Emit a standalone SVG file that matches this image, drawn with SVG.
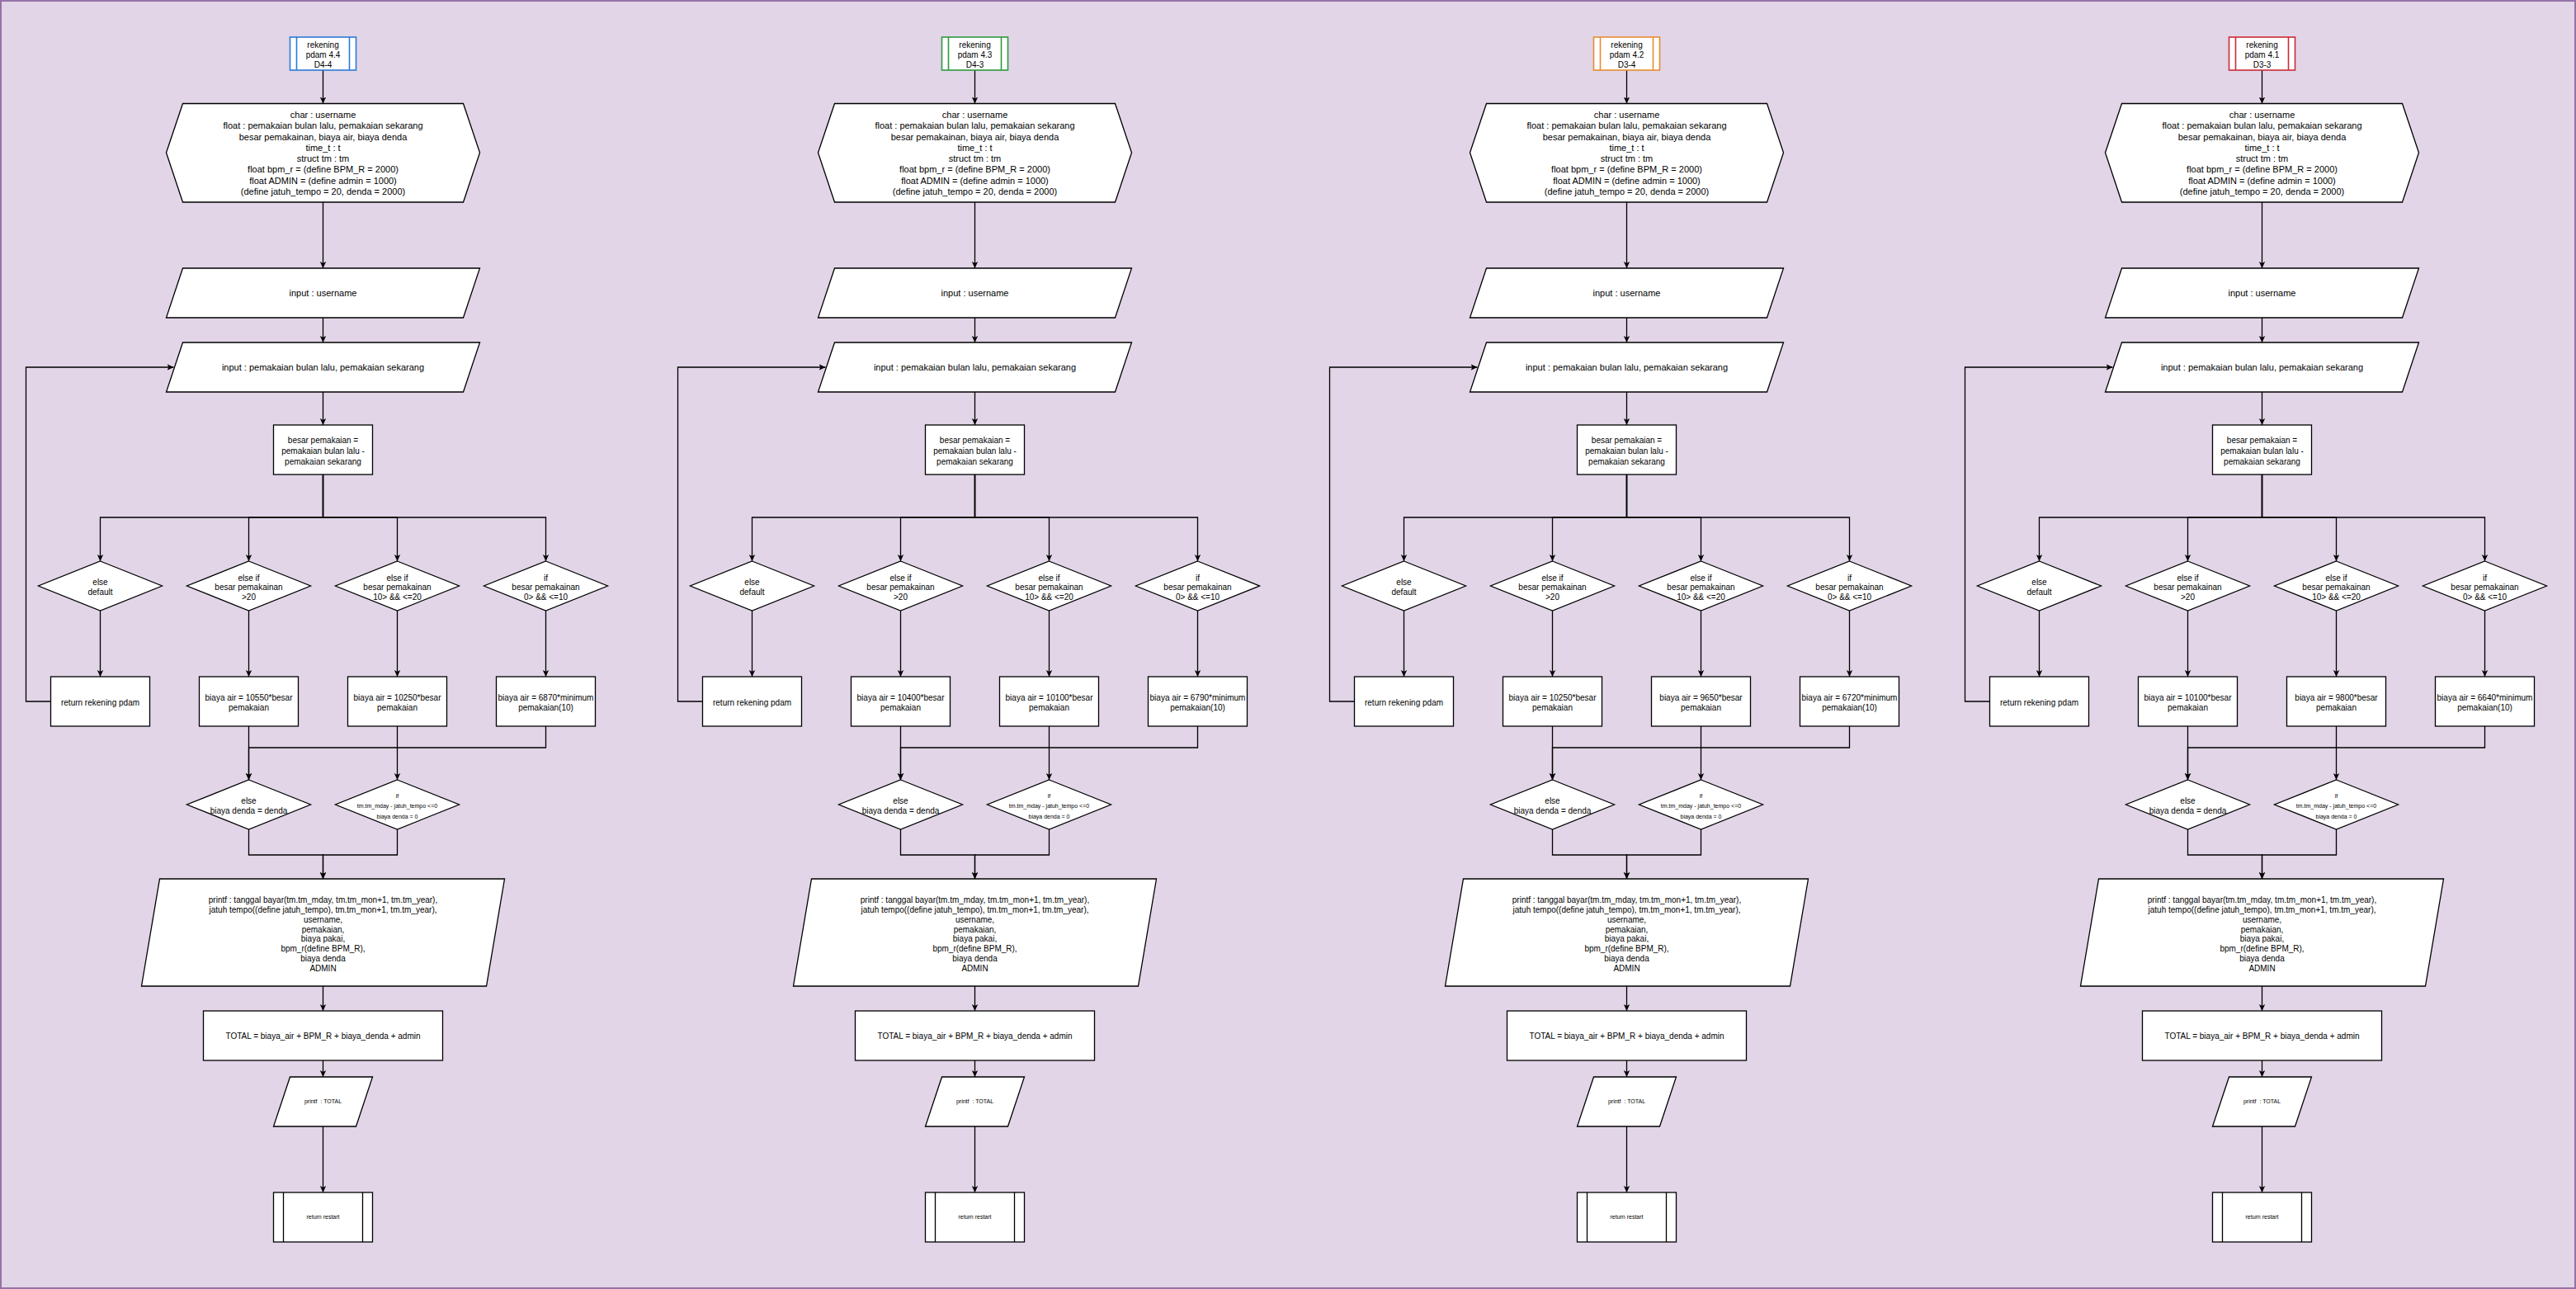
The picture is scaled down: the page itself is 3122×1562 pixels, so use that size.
<svg xmlns="http://www.w3.org/2000/svg" width="3122" height="1562" viewBox="0 0 3122 1562">
<defs>
<style>
.n{fill:#fff;stroke:#000;stroke-width:1.3}
.t{font-family:"Liberation Sans",Arial,Helvetica,sans-serif;font-size:10px;text-anchor:middle;fill:#000}
.f11{font-size:11px}
.f7{font-size:7px}
.e{fill:none;stroke:#000;stroke-width:1.3;marker-end:url(#arr)}
.blue{fill:#fff;stroke:#2b7bd6;stroke-width:1.6}
.green{fill:#fff;stroke:#2d9a3c;stroke-width:1.6}
.orange{fill:#fff;stroke:#e88c2e;stroke-width:1.6}
.red{fill:#fff;stroke:#cc2a36;stroke-width:1.6}
</style>
<marker id="arr" markerUnits="userSpaceOnUse" markerWidth="10" markerHeight="10" viewBox="0 0 10 10" refX="8" refY="5" orient="auto">
<path d="M0,1.3 L8,5 L0,8.7 L2,5 Z" fill="#000"/>
</marker>
</defs>
<rect x="1" y="1" width="3120" height="1560" fill="#e1d5e7" stroke="#9673a6" stroke-width="2"/>

<!-- ================= COLUMN 1 ================= -->
<g id="c1-edges" transform="translate(391.5 0)">
<path class="e" d="M0,85 V125.5"/>
<path class="e" d="M0,245 V325"/>
<path class="e" d="M0,385 V415"/>
<path class="e" d="M0,475 V515"/>
<path class="e" d="M0,575 V627 H-270 V680"/>
<path class="e" d="M0,575 V627 H-90 V680"/>
<path class="e" d="M0,575 V627 H90 V680"/>
<path class="e" d="M0,575 V627 H270 V680"/>
<path class="e" d="M-270,740 V820"/>
<path class="e" d="M-90,740 V820"/>
<path class="e" d="M90,740 V820"/>
<path class="e" d="M270,740 V820"/>
<path class="e" d="M-330,850 H-360 V445 H-181"/>
<path class="e" d="M-90,880 V945"/>
<path class="e" d="M90,880 V945"/>
<path class="e" d="M270,880 V906 H-90 V945"/>
<path class="e" d="M-90,1005 V1036 H0 V1065"/>
<path class="e" d="M90,1005 V1036 H0 V1065"/>
<path class="e" d="M0,1195 V1225"/>
<path class="e" d="M0,1285 V1305"/>
<path class="e" d="M0,1365 V1445"/>
</g>
<g id="c1-title" transform="translate(391.5 0)">
<rect class="blue" x="-40" y="45" width="80" height="40"/>
<line class="blue" x1="-32" y1="45" x2="-32" y2="85"/><line class="blue" x1="32" y1="45" x2="32" y2="85"/>
<text class="t"><tspan x="0" y="57.5">rekening</tspan><tspan x="0" y="69.8">pdam 4.4</tspan><tspan x="0" y="82">D4-4</tspan></text>
</g>
<g id="c1-decl" transform="translate(391.5 0)">
<polygon class="n" points="-190,185 -170,125.5 170,125.5 190,185 170,245 -170,245"/>
<text class="t f11"><tspan x="0" y="143.2">char : username</tspan><tspan x="0" y="156.4">float : pemakaian bulan lalu, pemakaian sekarang</tspan><tspan x="0" y="169.7">besar pemakainan, biaya air, biaya denda</tspan><tspan x="0" y="182.9">time_t : t</tspan><tspan x="0" y="196.2">struct tm : tm</tspan><tspan x="0" y="209.4">float bpm_r = (define BPM_R = 2000)</tspan><tspan x="0" y="222.7">float ADMIN = (define admin = 1000)</tspan><tspan x="0" y="235.9">(define jatuh_tempo = 20, denda = 2000)</tspan></text>
</g>
<g id="c1-in1" transform="translate(391.5 0)">
<polygon class="n" points="-170,325 190,325 170,385 -190,385"/>
<text class="t f11" x="0" y="359">input : username</text>
</g>
<g id="c1-in2" transform="translate(391.5 0)">
<polygon class="n" points="-170,415 190,415 170,475 -190,475"/>
<text class="t f11" x="0" y="449">input : pemakaian bulan lalu, pemakaian sekarang</text>
</g>
<g id="c1-besar" transform="translate(391.5 0)">
<rect class="n" x="-60" y="515" width="120" height="60"/>
<text class="t"><tspan x="0" y="536.5">besar pemakaian =</tspan><tspan x="0" y="549.5">pemakaian bulan lalu -</tspan><tspan x="0" y="562.5">pemakaian sekarang</tspan></text>
</g>
<g id="c1-d-else" transform="translate(121.5 0)">
<polygon class="n" points="0,680 75,710 0,740 -75,710"/>
<text class="t"><tspan x="0" y="709.2">else</tspan><tspan x="0" y="720.8">default</tspan></text>
</g>
<g id="c1-d-20" transform="translate(301.5 0)">
<polygon class="n" points="0,680 75,710 0,740 -75,710"/>
<text class="t"><tspan x="0" y="703.5">else if</tspan><tspan x="0" y="715.2">besar pemakainan</tspan><tspan x="0" y="726.8">&gt;20</tspan></text>
</g>
<g id="c1-d-10" transform="translate(481.5 0)">
<polygon class="n" points="0,680 75,710 0,740 -75,710"/>
<text class="t"><tspan x="0" y="703.5">else if</tspan><tspan x="0" y="715.2">besar pemakainan</tspan><tspan x="0" y="726.8">10&gt; &amp;&amp; &lt;=20</tspan></text>
</g>
<g id="c1-d-0" transform="translate(661.5 0)">
<polygon class="n" points="0,680 75,710 0,740 -75,710"/>
<text class="t"><tspan x="0" y="703.5">if</tspan><tspan x="0" y="715.2">besar pemakainan</tspan><tspan x="0" y="726.8">0&gt; &amp;&amp; &lt;=10</tspan></text>
</g>
<g id="c1-ret" transform="translate(121.5 0)">
<rect class="n" x="-60" y="820" width="120" height="60"/>
<text class="t" x="0" y="855.2">return rekening pdam</text>
</g>
<g id="c1-b1" transform="translate(301.5 0)">
<rect class="n" x="-60" y="820" width="120" height="60"/>
<text class="t"><tspan x="0" y="849.2">biaya air = 10550*besar</tspan><tspan x="0" y="861.2">pemakaian</tspan></text>
</g>
<g id="c1-b2" transform="translate(481.5 0)">
<rect class="n" x="-60" y="820" width="120" height="60"/>
<text class="t"><tspan x="0" y="849.2">biaya air = 10250*besar</tspan><tspan x="0" y="861.2">pemakaian</tspan></text>
</g>
<g id="c1-b3" transform="translate(661.5 0)">
<rect class="n" x="-60" y="820" width="120" height="60"/>
<text class="t"><tspan x="0" y="849.2">biaya air = 6870*minimum</tspan><tspan x="0" y="861.2">pemakaian(10)</tspan></text>
</g>
<g id="c1-d-denda" transform="translate(301.5 0)">
<polygon class="n" points="0,945 75,975 0,1005 -75,975"/>
<text class="t"><tspan x="0" y="974.2">else</tspan><tspan x="0" y="986.2">biaya denda = denda</tspan></text>
</g>
<g id="c1-d-tempo" transform="translate(481.5 0)">
<polygon class="n" points="0,945 75,975 0,1005 -75,975"/>
<text class="t f7"><tspan x="0" y="966.5">if</tspan><tspan x="0" y="979.2">tm.tm_mday - jatuh_tempo &lt;=0</tspan><tspan x="0" y="991.8">biaya denda = 0</tspan></text>
</g>
<g id="c1-printf" transform="translate(391.5 0)">
<polygon class="n" points="-198,1065 220,1065 198,1195 -220,1195"/>
<text class="t"><tspan x="0" y="1094.2">printf : tanggal bayar(tm.tm_mday, tm.tm_mon+1, tm.tm_year),</tspan><tspan x="0" y="1106">jatuh tempo((define jatuh_tempo), tm.tm_mon+1, tm.tm_year),</tspan><tspan x="0" y="1117.8">username,</tspan><tspan x="0" y="1129.6">pemakaian,</tspan><tspan x="0" y="1141.4">biaya pakai,</tspan><tspan x="0" y="1153.2">bpm_r(define BPM_R),</tspan><tspan x="0" y="1165">biaya denda</tspan><tspan x="0" y="1176.8">ADMIN</tspan></text>
</g>
<g id="c1-total" transform="translate(391.5 0)">
<rect class="n" x="-145" y="1225" width="290" height="60"/>
<text class="t" x="0" y="1259.2">TOTAL = biaya_air + BPM_R + biaya_denda + admin</text>
</g>
<g id="c1-ptotal" transform="translate(391.5 0)">
<polygon class="n" points="-40,1305 60,1305 40,1365 -60,1365"/>
<text class="t f7" x="0" y="1336.5">printf&#160; : TOTAL</text>
</g>
<g id="c1-restart" transform="translate(391.5 0)">
<rect class="n" x="-60" y="1445" width="120" height="60"/>
<line class="n" x1="-48" y1="1445" x2="-48" y2="1505"/><line class="n" x1="48" y1="1445" x2="48" y2="1505"/>
<text class="t f7" x="0" y="1476.5">return restart</text>
</g>

<!-- ================= COLUMN 2 ================= -->
<g id="c2-edges" transform="translate(1181.5 0)">
<path class="e" d="M0,85 V125.5"/>
<path class="e" d="M0,245 V325"/>
<path class="e" d="M0,385 V415"/>
<path class="e" d="M0,475 V515"/>
<path class="e" d="M0,575 V627 H-270 V680"/>
<path class="e" d="M0,575 V627 H-90 V680"/>
<path class="e" d="M0,575 V627 H90 V680"/>
<path class="e" d="M0,575 V627 H270 V680"/>
<path class="e" d="M-270,740 V820"/>
<path class="e" d="M-90,740 V820"/>
<path class="e" d="M90,740 V820"/>
<path class="e" d="M270,740 V820"/>
<path class="e" d="M-330,850 H-360 V445 H-181"/>
<path class="e" d="M-90,880 V945"/>
<path class="e" d="M90,880 V945"/>
<path class="e" d="M270,880 V906 H-90 V945"/>
<path class="e" d="M-90,1005 V1036 H0 V1065"/>
<path class="e" d="M90,1005 V1036 H0 V1065"/>
<path class="e" d="M0,1195 V1225"/>
<path class="e" d="M0,1285 V1305"/>
<path class="e" d="M0,1365 V1445"/>
</g>
<g id="c2-title" transform="translate(1181.5 0)">
<rect class="green" x="-40" y="45" width="80" height="40"/>
<line class="green" x1="-32" y1="45" x2="-32" y2="85"/><line class="green" x1="32" y1="45" x2="32" y2="85"/>
<text class="t"><tspan x="0" y="57.5">rekening</tspan><tspan x="0" y="69.8">pdam 4.3</tspan><tspan x="0" y="82">D4-3</tspan></text>
</g>
<g id="c2-decl" transform="translate(1181.5 0)">
<polygon class="n" points="-190,185 -170,125.5 170,125.5 190,185 170,245 -170,245"/>
<text class="t f11"><tspan x="0" y="143.2">char : username</tspan><tspan x="0" y="156.4">float : pemakaian bulan lalu, pemakaian sekarang</tspan><tspan x="0" y="169.7">besar pemakainan, biaya air, biaya denda</tspan><tspan x="0" y="182.9">time_t : t</tspan><tspan x="0" y="196.2">struct tm : tm</tspan><tspan x="0" y="209.4">float bpm_r = (define BPM_R = 2000)</tspan><tspan x="0" y="222.7">float ADMIN = (define admin = 1000)</tspan><tspan x="0" y="235.9">(define jatuh_tempo = 20, denda = 2000)</tspan></text>
</g>
<g id="c2-in1" transform="translate(1181.5 0)">
<polygon class="n" points="-170,325 190,325 170,385 -190,385"/>
<text class="t f11" x="0" y="359">input : username</text>
</g>
<g id="c2-in2" transform="translate(1181.5 0)">
<polygon class="n" points="-170,415 190,415 170,475 -190,475"/>
<text class="t f11" x="0" y="449">input : pemakaian bulan lalu, pemakaian sekarang</text>
</g>
<g id="c2-besar" transform="translate(1181.5 0)">
<rect class="n" x="-60" y="515" width="120" height="60"/>
<text class="t"><tspan x="0" y="536.5">besar pemakaian =</tspan><tspan x="0" y="549.5">pemakaian bulan lalu -</tspan><tspan x="0" y="562.5">pemakaian sekarang</tspan></text>
</g>
<g id="c2-d-else" transform="translate(911.5 0)">
<polygon class="n" points="0,680 75,710 0,740 -75,710"/>
<text class="t"><tspan x="0" y="709.2">else</tspan><tspan x="0" y="720.8">default</tspan></text>
</g>
<g id="c2-d-20" transform="translate(1091.5 0)">
<polygon class="n" points="0,680 75,710 0,740 -75,710"/>
<text class="t"><tspan x="0" y="703.5">else if</tspan><tspan x="0" y="715.2">besar pemakainan</tspan><tspan x="0" y="726.8">&gt;20</tspan></text>
</g>
<g id="c2-d-10" transform="translate(1271.5 0)">
<polygon class="n" points="0,680 75,710 0,740 -75,710"/>
<text class="t"><tspan x="0" y="703.5">else if</tspan><tspan x="0" y="715.2">besar pemakainan</tspan><tspan x="0" y="726.8">10&gt; &amp;&amp; &lt;=20</tspan></text>
</g>
<g id="c2-d-0" transform="translate(1451.5 0)">
<polygon class="n" points="0,680 75,710 0,740 -75,710"/>
<text class="t"><tspan x="0" y="703.5">if</tspan><tspan x="0" y="715.2">besar pemakainan</tspan><tspan x="0" y="726.8">0&gt; &amp;&amp; &lt;=10</tspan></text>
</g>
<g id="c2-ret" transform="translate(911.5 0)">
<rect class="n" x="-60" y="820" width="120" height="60"/>
<text class="t" x="0" y="855.2">return rekening pdam</text>
</g>
<g id="c2-b1" transform="translate(1091.5 0)">
<rect class="n" x="-60" y="820" width="120" height="60"/>
<text class="t"><tspan x="0" y="849.2">biaya air = 10400*besar</tspan><tspan x="0" y="861.2">pemakaian</tspan></text>
</g>
<g id="c2-b2" transform="translate(1271.5 0)">
<rect class="n" x="-60" y="820" width="120" height="60"/>
<text class="t"><tspan x="0" y="849.2">biaya air = 10100*besar</tspan><tspan x="0" y="861.2">pemakaian</tspan></text>
</g>
<g id="c2-b3" transform="translate(1451.5 0)">
<rect class="n" x="-60" y="820" width="120" height="60"/>
<text class="t"><tspan x="0" y="849.2">biaya air = 6790*minimum</tspan><tspan x="0" y="861.2">pemakaian(10)</tspan></text>
</g>
<g id="c2-d-denda" transform="translate(1091.5 0)">
<polygon class="n" points="0,945 75,975 0,1005 -75,975"/>
<text class="t"><tspan x="0" y="974.2">else</tspan><tspan x="0" y="986.2">biaya denda = denda</tspan></text>
</g>
<g id="c2-d-tempo" transform="translate(1271.5 0)">
<polygon class="n" points="0,945 75,975 0,1005 -75,975"/>
<text class="t f7"><tspan x="0" y="966.5">if</tspan><tspan x="0" y="979.2">tm.tm_mday - jatuh_tempo &lt;=0</tspan><tspan x="0" y="991.8">biaya denda = 0</tspan></text>
</g>
<g id="c2-printf" transform="translate(1181.5 0)">
<polygon class="n" points="-198,1065 220,1065 198,1195 -220,1195"/>
<text class="t"><tspan x="0" y="1094.2">printf : tanggal bayar(tm.tm_mday, tm.tm_mon+1, tm.tm_year),</tspan><tspan x="0" y="1106">jatuh tempo((define jatuh_tempo), tm.tm_mon+1, tm.tm_year),</tspan><tspan x="0" y="1117.8">username,</tspan><tspan x="0" y="1129.6">pemakaian,</tspan><tspan x="0" y="1141.4">biaya pakai,</tspan><tspan x="0" y="1153.2">bpm_r(define BPM_R),</tspan><tspan x="0" y="1165">biaya denda</tspan><tspan x="0" y="1176.8">ADMIN</tspan></text>
</g>
<g id="c2-total" transform="translate(1181.5 0)">
<rect class="n" x="-145" y="1225" width="290" height="60"/>
<text class="t" x="0" y="1259.2">TOTAL = biaya_air + BPM_R + biaya_denda + admin</text>
</g>
<g id="c2-ptotal" transform="translate(1181.5 0)">
<polygon class="n" points="-40,1305 60,1305 40,1365 -60,1365"/>
<text class="t f7" x="0" y="1336.5">printf&#160; : TOTAL</text>
</g>
<g id="c2-restart" transform="translate(1181.5 0)">
<rect class="n" x="-60" y="1445" width="120" height="60"/>
<line class="n" x1="-48" y1="1445" x2="-48" y2="1505"/><line class="n" x1="48" y1="1445" x2="48" y2="1505"/>
<text class="t f7" x="0" y="1476.5">return restart</text>
</g>

<!-- ================= COLUMN 3 ================= -->
<g id="c3-edges" transform="translate(1971.5 0)">
<path class="e" d="M0,85 V125.5"/>
<path class="e" d="M0,245 V325"/>
<path class="e" d="M0,385 V415"/>
<path class="e" d="M0,475 V515"/>
<path class="e" d="M0,575 V627 H-270 V680"/>
<path class="e" d="M0,575 V627 H-90 V680"/>
<path class="e" d="M0,575 V627 H90 V680"/>
<path class="e" d="M0,575 V627 H270 V680"/>
<path class="e" d="M-270,740 V820"/>
<path class="e" d="M-90,740 V820"/>
<path class="e" d="M90,740 V820"/>
<path class="e" d="M270,740 V820"/>
<path class="e" d="M-330,850 H-360 V445 H-181"/>
<path class="e" d="M-90,880 V945"/>
<path class="e" d="M90,880 V945"/>
<path class="e" d="M270,880 V906 H-90 V945"/>
<path class="e" d="M-90,1005 V1036 H0 V1065"/>
<path class="e" d="M90,1005 V1036 H0 V1065"/>
<path class="e" d="M0,1195 V1225"/>
<path class="e" d="M0,1285 V1305"/>
<path class="e" d="M0,1365 V1445"/>
</g>
<g id="c3-title" transform="translate(1971.5 0)">
<rect class="orange" x="-40" y="45" width="80" height="40"/>
<line class="orange" x1="-32" y1="45" x2="-32" y2="85"/><line class="orange" x1="32" y1="45" x2="32" y2="85"/>
<text class="t"><tspan x="0" y="57.5">rekening</tspan><tspan x="0" y="69.8">pdam 4.2</tspan><tspan x="0" y="82">D3-4</tspan></text>
</g>
<g id="c3-decl" transform="translate(1971.5 0)">
<polygon class="n" points="-190,185 -170,125.5 170,125.5 190,185 170,245 -170,245"/>
<text class="t f11"><tspan x="0" y="143.2">char : username</tspan><tspan x="0" y="156.4">float : pemakaian bulan lalu, pemakaian sekarang</tspan><tspan x="0" y="169.7">besar pemakainan, biaya air, biaya denda</tspan><tspan x="0" y="182.9">time_t : t</tspan><tspan x="0" y="196.2">struct tm : tm</tspan><tspan x="0" y="209.4">float bpm_r = (define BPM_R = 2000)</tspan><tspan x="0" y="222.7">float ADMIN = (define admin = 1000)</tspan><tspan x="0" y="235.9">(define jatuh_tempo = 20, denda = 2000)</tspan></text>
</g>
<g id="c3-in1" transform="translate(1971.5 0)">
<polygon class="n" points="-170,325 190,325 170,385 -190,385"/>
<text class="t f11" x="0" y="359">input : username</text>
</g>
<g id="c3-in2" transform="translate(1971.5 0)">
<polygon class="n" points="-170,415 190,415 170,475 -190,475"/>
<text class="t f11" x="0" y="449">input : pemakaian bulan lalu, pemakaian sekarang</text>
</g>
<g id="c3-besar" transform="translate(1971.5 0)">
<rect class="n" x="-60" y="515" width="120" height="60"/>
<text class="t"><tspan x="0" y="536.5">besar pemakaian =</tspan><tspan x="0" y="549.5">pemakaian bulan lalu -</tspan><tspan x="0" y="562.5">pemakaian sekarang</tspan></text>
</g>
<g id="c3-d-else" transform="translate(1701.5 0)">
<polygon class="n" points="0,680 75,710 0,740 -75,710"/>
<text class="t"><tspan x="0" y="709.2">else</tspan><tspan x="0" y="720.8">default</tspan></text>
</g>
<g id="c3-d-20" transform="translate(1881.5 0)">
<polygon class="n" points="0,680 75,710 0,740 -75,710"/>
<text class="t"><tspan x="0" y="703.5">else if</tspan><tspan x="0" y="715.2">besar pemakainan</tspan><tspan x="0" y="726.8">&gt;20</tspan></text>
</g>
<g id="c3-d-10" transform="translate(2061.5 0)">
<polygon class="n" points="0,680 75,710 0,740 -75,710"/>
<text class="t"><tspan x="0" y="703.5">else if</tspan><tspan x="0" y="715.2">besar pemakainan</tspan><tspan x="0" y="726.8">10&gt; &amp;&amp; &lt;=20</tspan></text>
</g>
<g id="c3-d-0" transform="translate(2241.5 0)">
<polygon class="n" points="0,680 75,710 0,740 -75,710"/>
<text class="t"><tspan x="0" y="703.5">if</tspan><tspan x="0" y="715.2">besar pemakainan</tspan><tspan x="0" y="726.8">0&gt; &amp;&amp; &lt;=10</tspan></text>
</g>
<g id="c3-ret" transform="translate(1701.5 0)">
<rect class="n" x="-60" y="820" width="120" height="60"/>
<text class="t" x="0" y="855.2">return rekening pdam</text>
</g>
<g id="c3-b1" transform="translate(1881.5 0)">
<rect class="n" x="-60" y="820" width="120" height="60"/>
<text class="t"><tspan x="0" y="849.2">biaya air = 10250*besar</tspan><tspan x="0" y="861.2">pemakaian</tspan></text>
</g>
<g id="c3-b2" transform="translate(2061.5 0)">
<rect class="n" x="-60" y="820" width="120" height="60"/>
<text class="t"><tspan x="0" y="849.2">biaya air = 9650*besar</tspan><tspan x="0" y="861.2">pemakaian</tspan></text>
</g>
<g id="c3-b3" transform="translate(2241.5 0)">
<rect class="n" x="-60" y="820" width="120" height="60"/>
<text class="t"><tspan x="0" y="849.2">biaya air = 6720*minimum</tspan><tspan x="0" y="861.2">pemakaian(10)</tspan></text>
</g>
<g id="c3-d-denda" transform="translate(1881.5 0)">
<polygon class="n" points="0,945 75,975 0,1005 -75,975"/>
<text class="t"><tspan x="0" y="974.2">else</tspan><tspan x="0" y="986.2">biaya denda = denda</tspan></text>
</g>
<g id="c3-d-tempo" transform="translate(2061.5 0)">
<polygon class="n" points="0,945 75,975 0,1005 -75,975"/>
<text class="t f7"><tspan x="0" y="966.5">if</tspan><tspan x="0" y="979.2">tm.tm_mday - jatuh_tempo &lt;=0</tspan><tspan x="0" y="991.8">biaya denda = 0</tspan></text>
</g>
<g id="c3-printf" transform="translate(1971.5 0)">
<polygon class="n" points="-198,1065 220,1065 198,1195 -220,1195"/>
<text class="t"><tspan x="0" y="1094.2">printf : tanggal bayar(tm.tm_mday, tm.tm_mon+1, tm.tm_year),</tspan><tspan x="0" y="1106">jatuh tempo((define jatuh_tempo), tm.tm_mon+1, tm.tm_year),</tspan><tspan x="0" y="1117.8">username,</tspan><tspan x="0" y="1129.6">pemakaian,</tspan><tspan x="0" y="1141.4">biaya pakai,</tspan><tspan x="0" y="1153.2">bpm_r(define BPM_R),</tspan><tspan x="0" y="1165">biaya denda</tspan><tspan x="0" y="1176.8">ADMIN</tspan></text>
</g>
<g id="c3-total" transform="translate(1971.5 0)">
<rect class="n" x="-145" y="1225" width="290" height="60"/>
<text class="t" x="0" y="1259.2">TOTAL = biaya_air + BPM_R + biaya_denda + admin</text>
</g>
<g id="c3-ptotal" transform="translate(1971.5 0)">
<polygon class="n" points="-40,1305 60,1305 40,1365 -60,1365"/>
<text class="t f7" x="0" y="1336.5">printf&#160; : TOTAL</text>
</g>
<g id="c3-restart" transform="translate(1971.5 0)">
<rect class="n" x="-60" y="1445" width="120" height="60"/>
<line class="n" x1="-48" y1="1445" x2="-48" y2="1505"/><line class="n" x1="48" y1="1445" x2="48" y2="1505"/>
<text class="t f7" x="0" y="1476.5">return restart</text>
</g>

<!-- ================= COLUMN 4 ================= -->
<g id="c4-edges" transform="translate(2741.5 0)">
<path class="e" d="M0,85 V125.5"/>
<path class="e" d="M0,245 V325"/>
<path class="e" d="M0,385 V415"/>
<path class="e" d="M0,475 V515"/>
<path class="e" d="M0,575 V627 H-270 V680"/>
<path class="e" d="M0,575 V627 H-90 V680"/>
<path class="e" d="M0,575 V627 H90 V680"/>
<path class="e" d="M0,575 V627 H270 V680"/>
<path class="e" d="M-270,740 V820"/>
<path class="e" d="M-90,740 V820"/>
<path class="e" d="M90,740 V820"/>
<path class="e" d="M270,740 V820"/>
<path class="e" d="M-330,850 H-360 V445 H-181"/>
<path class="e" d="M-90,880 V945"/>
<path class="e" d="M90,880 V945"/>
<path class="e" d="M270,880 V906 H-90 V945"/>
<path class="e" d="M-90,1005 V1036 H0 V1065"/>
<path class="e" d="M90,1005 V1036 H0 V1065"/>
<path class="e" d="M0,1195 V1225"/>
<path class="e" d="M0,1285 V1305"/>
<path class="e" d="M0,1365 V1445"/>
</g>
<g id="c4-title" transform="translate(2741.5 0)">
<rect class="red" x="-40" y="45" width="80" height="40"/>
<line class="red" x1="-32" y1="45" x2="-32" y2="85"/><line class="red" x1="32" y1="45" x2="32" y2="85"/>
<text class="t"><tspan x="0" y="57.5">rekening</tspan><tspan x="0" y="69.8">pdam 4.1</tspan><tspan x="0" y="82">D3-3</tspan></text>
</g>
<g id="c4-decl" transform="translate(2741.5 0)">
<polygon class="n" points="-190,185 -170,125.5 170,125.5 190,185 170,245 -170,245"/>
<text class="t f11"><tspan x="0" y="143.2">char : username</tspan><tspan x="0" y="156.4">float : pemakaian bulan lalu, pemakaian sekarang</tspan><tspan x="0" y="169.7">besar pemakainan, biaya air, biaya denda</tspan><tspan x="0" y="182.9">time_t : t</tspan><tspan x="0" y="196.2">struct tm : tm</tspan><tspan x="0" y="209.4">float bpm_r = (define BPM_R = 2000)</tspan><tspan x="0" y="222.7">float ADMIN = (define admin = 1000)</tspan><tspan x="0" y="235.9">(define jatuh_tempo = 20, denda = 2000)</tspan></text>
</g>
<g id="c4-in1" transform="translate(2741.5 0)">
<polygon class="n" points="-170,325 190,325 170,385 -190,385"/>
<text class="t f11" x="0" y="359">input : username</text>
</g>
<g id="c4-in2" transform="translate(2741.5 0)">
<polygon class="n" points="-170,415 190,415 170,475 -190,475"/>
<text class="t f11" x="0" y="449">input : pemakaian bulan lalu, pemakaian sekarang</text>
</g>
<g id="c4-besar" transform="translate(2741.5 0)">
<rect class="n" x="-60" y="515" width="120" height="60"/>
<text class="t"><tspan x="0" y="536.5">besar pemakaian =</tspan><tspan x="0" y="549.5">pemakaian bulan lalu -</tspan><tspan x="0" y="562.5">pemakaian sekarang</tspan></text>
</g>
<g id="c4-d-else" transform="translate(2471.5 0)">
<polygon class="n" points="0,680 75,710 0,740 -75,710"/>
<text class="t"><tspan x="0" y="709.2">else</tspan><tspan x="0" y="720.8">default</tspan></text>
</g>
<g id="c4-d-20" transform="translate(2651.5 0)">
<polygon class="n" points="0,680 75,710 0,740 -75,710"/>
<text class="t"><tspan x="0" y="703.5">else if</tspan><tspan x="0" y="715.2">besar pemakainan</tspan><tspan x="0" y="726.8">&gt;20</tspan></text>
</g>
<g id="c4-d-10" transform="translate(2831.5 0)">
<polygon class="n" points="0,680 75,710 0,740 -75,710"/>
<text class="t"><tspan x="0" y="703.5">else if</tspan><tspan x="0" y="715.2">besar pemakainan</tspan><tspan x="0" y="726.8">10&gt; &amp;&amp; &lt;=20</tspan></text>
</g>
<g id="c4-d-0" transform="translate(3011.5 0)">
<polygon class="n" points="0,680 75,710 0,740 -75,710"/>
<text class="t"><tspan x="0" y="703.5">if</tspan><tspan x="0" y="715.2">besar pemakainan</tspan><tspan x="0" y="726.8">0&gt; &amp;&amp; &lt;=10</tspan></text>
</g>
<g id="c4-ret" transform="translate(2471.5 0)">
<rect class="n" x="-60" y="820" width="120" height="60"/>
<text class="t" x="0" y="855.2">return rekening pdam</text>
</g>
<g id="c4-b1" transform="translate(2651.5 0)">
<rect class="n" x="-60" y="820" width="120" height="60"/>
<text class="t"><tspan x="0" y="849.2">biaya air = 10100*besar</tspan><tspan x="0" y="861.2">pemakaian</tspan></text>
</g>
<g id="c4-b2" transform="translate(2831.5 0)">
<rect class="n" x="-60" y="820" width="120" height="60"/>
<text class="t"><tspan x="0" y="849.2">biaya air = 9800*besar</tspan><tspan x="0" y="861.2">pemakaian</tspan></text>
</g>
<g id="c4-b3" transform="translate(3011.5 0)">
<rect class="n" x="-60" y="820" width="120" height="60"/>
<text class="t"><tspan x="0" y="849.2">biaya air = 6640*minimum</tspan><tspan x="0" y="861.2">pemakaian(10)</tspan></text>
</g>
<g id="c4-d-denda" transform="translate(2651.5 0)">
<polygon class="n" points="0,945 75,975 0,1005 -75,975"/>
<text class="t"><tspan x="0" y="974.2">else</tspan><tspan x="0" y="986.2">biaya denda = denda</tspan></text>
</g>
<g id="c4-d-tempo" transform="translate(2831.5 0)">
<polygon class="n" points="0,945 75,975 0,1005 -75,975"/>
<text class="t f7"><tspan x="0" y="966.5">if</tspan><tspan x="0" y="979.2">tm.tm_mday - jatuh_tempo &lt;=0</tspan><tspan x="0" y="991.8">biaya denda = 0</tspan></text>
</g>
<g id="c4-printf" transform="translate(2741.5 0)">
<polygon class="n" points="-198,1065 220,1065 198,1195 -220,1195"/>
<text class="t"><tspan x="0" y="1094.2">printf : tanggal bayar(tm.tm_mday, tm.tm_mon+1, tm.tm_year),</tspan><tspan x="0" y="1106">jatuh tempo((define jatuh_tempo), tm.tm_mon+1, tm.tm_year),</tspan><tspan x="0" y="1117.8">username,</tspan><tspan x="0" y="1129.6">pemakaian,</tspan><tspan x="0" y="1141.4">biaya pakai,</tspan><tspan x="0" y="1153.2">bpm_r(define BPM_R),</tspan><tspan x="0" y="1165">biaya denda</tspan><tspan x="0" y="1176.8">ADMIN</tspan></text>
</g>
<g id="c4-total" transform="translate(2741.5 0)">
<rect class="n" x="-145" y="1225" width="290" height="60"/>
<text class="t" x="0" y="1259.2">TOTAL = biaya_air + BPM_R + biaya_denda + admin</text>
</g>
<g id="c4-ptotal" transform="translate(2741.5 0)">
<polygon class="n" points="-40,1305 60,1305 40,1365 -60,1365"/>
<text class="t f7" x="0" y="1336.5">printf&#160; : TOTAL</text>
</g>
<g id="c4-restart" transform="translate(2741.5 0)">
<rect class="n" x="-60" y="1445" width="120" height="60"/>
<line class="n" x1="-48" y1="1445" x2="-48" y2="1505"/><line class="n" x1="48" y1="1445" x2="48" y2="1505"/>
<text class="t f7" x="0" y="1476.5">return restart</text>
</g>
</svg>
